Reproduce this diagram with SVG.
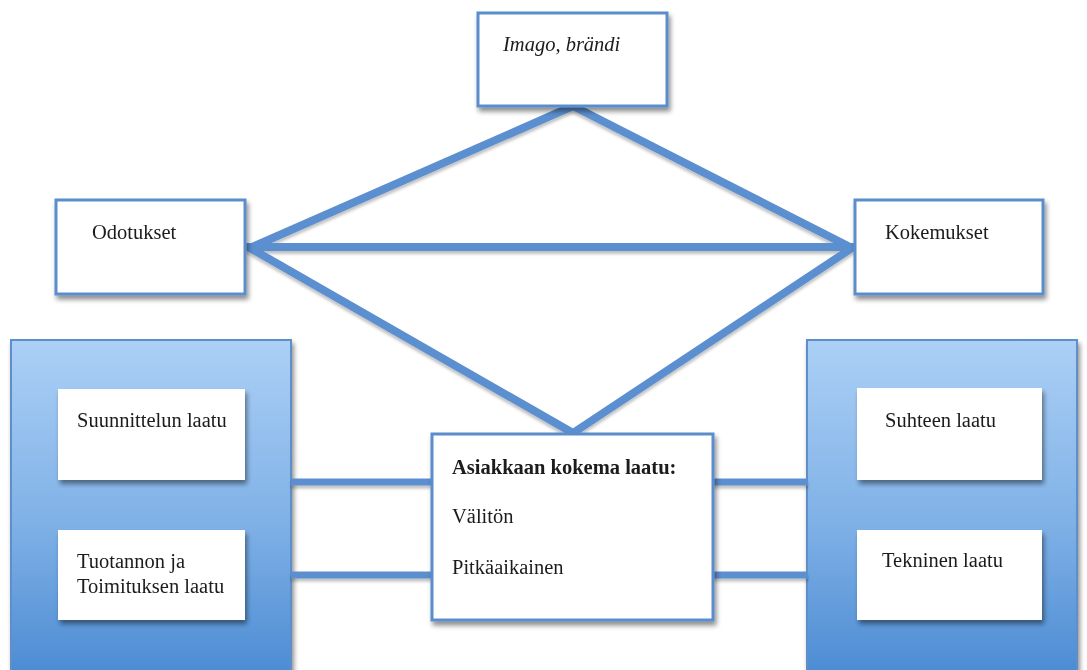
<svg xmlns="http://www.w3.org/2000/svg" width="1087" height="670" viewBox="0 0 1087 670">
  <defs>
    <linearGradient id="panelFill" x1="0" y1="0" x2="0" y2="1">
      <stop offset="0" stop-color="#acd0f6"/>
      <stop offset="0.55" stop-color="#7eb0e6"/>
      <stop offset="1" stop-color="#4a8ad2"/>
    </linearGradient>
    <filter id="shadow" x="-10%" y="-10%" width="125%" height="130%">
      <feGaussianBlur in="SourceAlpha" stdDeviation="2.5"/>
      <feOffset dx="2" dy="4" result="blur"/>
      <feComponentTransfer><feFuncA type="linear" slope="0.45"/></feComponentTransfer>
      <feMerge><feMergeNode/><feMergeNode in="SourceGraphic"/></feMerge>
    </filter>
    <filter id="lineShadow" x="-5%" y="-20%" width="110%" height="160%">
      <feGaussianBlur in="SourceAlpha" stdDeviation="1.5"/>
      <feOffset dx="0" dy="3"/>
      <feComponentTransfer><feFuncA type="linear" slope="0.25"/></feComponentTransfer>
      <feMerge><feMergeNode/><feMergeNode in="SourceGraphic"/></feMerge>
    </filter>
  </defs>
  <style>
    .box { fill: #ffffff; stroke: #5b8dcb; stroke-width: 3; }
    .panel { fill: url(#panelFill); stroke: #5f8fc8; stroke-width: 2; }
    .link { stroke: #5b8fcf; stroke-width: 8; stroke-linecap: butt; fill: none; }
    .hlink { stroke: #5b8fcf; stroke-width: 7; fill: none; }
    .lbl { font-family: "Liberation Serif", "Times New Roman", serif; font-size: 20.5px; fill: #1a1a1a; }
    .it { font-style: italic; }
    .b { font-weight: bold; }
  </style>

  <rect width="1087" height="670" fill="#ffffff"/>

  <!-- outer gradient panels -->
  <g id="panel-left" filter="url(#shadow)">
    <rect class="panel" x="11" y="340" width="280" height="340"/>
  </g>
  <g id="panel-right" filter="url(#shadow)">
    <rect class="panel" x="807" y="340" width="270" height="340"/>
  </g>

  <!-- connectors -->
  <g id="connectors" filter="url(#lineShadow)">
    <line class="link" x1="573" y1="106" x2="250" y2="248"/>
    <line class="link" x1="573" y1="106" x2="852" y2="248"/>
    <line class="link" x1="245" y1="247" x2="855" y2="247"/>
    <line class="link" x1="250" y1="248" x2="573" y2="433"/>
    <line class="link" x1="852" y1="248" x2="573" y2="433"/>
    <line class="hlink" x1="291" y1="482" x2="432" y2="482"/>
    <line class="hlink" x1="291" y1="575" x2="432" y2="575"/>
    <line class="hlink" x1="713" y1="482" x2="808" y2="482"/>
    <line class="hlink" x1="713" y1="575" x2="808" y2="575"/>
  </g>

  <g id="imago" filter="url(#shadow)">
    <rect class="box" x="478" y="13" width="189" height="93"/>
    <text class="lbl it" x="503" y="51">Imago, brändi</text>
  </g>

  <g id="odotukset" filter="url(#shadow)">
    <rect class="box" x="56" y="200" width="189" height="94"/>
    <text class="lbl" x="92" y="239">Odotukset</text>
  </g>

  <g id="kokemukset" filter="url(#shadow)">
    <rect class="box" x="855" y="200" width="188" height="94"/>
    <text class="lbl" x="885" y="239">Kokemukset</text>
  </g>

  <g id="suunnittelu" filter="url(#shadow)">
    <rect x="58" y="389" width="187" height="91" fill="#ffffff"/>
    <text class="lbl" x="77" y="427">Suunnittelun laatu</text>
  </g>

  <g id="tuotanto" filter="url(#shadow)">
    <rect x="58" y="530" width="187" height="90" fill="#ffffff"/>
    <text class="lbl" x="77" y="568">Tuotannon ja</text>
    <text class="lbl" x="77" y="593">Toimituksen laatu</text>
  </g>

  <g id="suhde" filter="url(#shadow)">
    <rect x="857" y="388" width="185" height="92" fill="#ffffff"/>
    <text class="lbl" x="885" y="427">Suhteen laatu</text>
  </g>

  <g id="tekninen" filter="url(#shadow)">
    <rect x="857" y="530" width="185" height="90" fill="#ffffff"/>
    <text class="lbl" x="882" y="567">Tekninen laatu</text>
  </g>

  <g id="asiakas" filter="url(#shadow)">
    <rect class="box" x="432" y="434" width="281" height="186"/>
    <text class="lbl b" x="452" y="474">Asiakkaan kokema laatu:</text>
    <text class="lbl" x="452" y="523">Välitön</text>
    <text class="lbl" x="452" y="574">Pitkäaikainen</text>
  </g>
</svg>
